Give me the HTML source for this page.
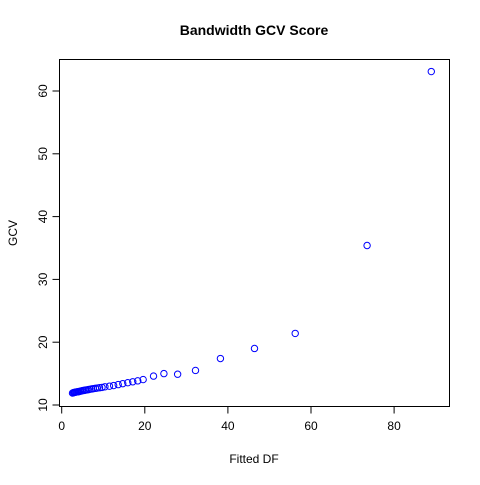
<!DOCTYPE html>
<html><head><meta charset="utf-8"><style>
body{margin:0;background:#fff}
svg text{font-family:"Liberation Sans",Arial,sans-serif}
</style></head><body>
<svg id="c" width="480" height="480" xmlns="http://www.w3.org/2000/svg">
<rect width="480" height="480" fill="#fff"/>
<text x="254" y="35" text-anchor="middle" font-size="14" font-weight="bold">Bandwidth GCV Score</text>
<text x="254" y="463" text-anchor="middle" font-size="12">Fitted DF</text>
<text transform="translate(17,233) rotate(-90)" text-anchor="middle" font-size="12">GCV</text>
<rect x="59.5" y="59.5" width="390" height="347" fill="none" stroke="#000" stroke-width="1"/>
<g id="xa"></g><g id="ya"></g><g id="pts"></g>
</svg>
<script>
const dfValues=[2.6,2.8,3.0,3.2,3.4,3.6,3.8,4.0,4.2,4.5,4.8,5.1,5.4,5.7,6.0,6.4,6.8,7.2,7.6,8.1,8.6,9.1,9.7,10.4,11.5,12.5,13.6,14.7,15.9,17.1,18.3,19.6,22.1,24.6,27.9,32.2,38.2,46.4,56.2,73.5,88.95];
const gcvValues=[11.9,11.95,12.0,12.02,12.05,12.08,12.1,12.12,12.15,12.2,12.25,12.3,12.33,12.37,12.4,12.45,12.5,12.55,12.6,12.65,12.7,12.75,12.8,12.9,13.0,13.1,13.25,13.4,13.55,13.7,13.85,14.05,14.6,15.0,14.9,15.5,17.4,19.0,21.4,35.4,63.1];
const xTicks=[0,20,40,60,80];
const yTicks=[10,20,30,40,50,60];
const NS="http://www.w3.org/2000/svg";
const sx=v=>61.7+v*4.155;
const sy=v=>405-(v-10)*6.28;
function mk(t,a,p){const e=document.createElementNS(NS,t);for(const k in a)e.setAttribute(k,a[k]);p.appendChild(e);return e;}
const xa=document.getElementById('xa'),ya=document.getElementById('ya'),pts=document.getElementById('pts');
mk('line',{x1:sx(0),x2:sx(80),y1:406.5,y2:406.5,stroke:'#000'},xa);
xTicks.forEach(t=>{
 const l=mk('line',{x1:sx(t),x2:sx(t),y1:406.5,y2:413.5,stroke:'#000'},xa);
 
 
 const tx=mk('text',{x:sx(t),y:430,'text-anchor':'middle','font-size':12},xa);tx.textContent=t;
 
 
});
mk('line',{x1:59.5,x2:59.5,y1:sy(10),y2:sy(60),stroke:'#000'},ya);
yTicks.forEach(t=>{
 const l=mk('line',{x1:52.5,x2:59.5,y1:sy(t),y2:sy(t),stroke:'#000'},ya);
 
 
 const tx=mk('text',{transform:`translate(47,${sy(t)}) rotate(-90)`,'text-anchor':'middle','font-size':12},ya);tx.textContent=t;
 
 
});
dfValues.forEach((x,i)=>{
 const c=mk('circle',{cx:sx(x),cy:sy(gcvValues[i]),r:3.2,fill:'none',stroke:'#0000ff','stroke-width':1},pts);
 
 
});
</script>
</body></html>
